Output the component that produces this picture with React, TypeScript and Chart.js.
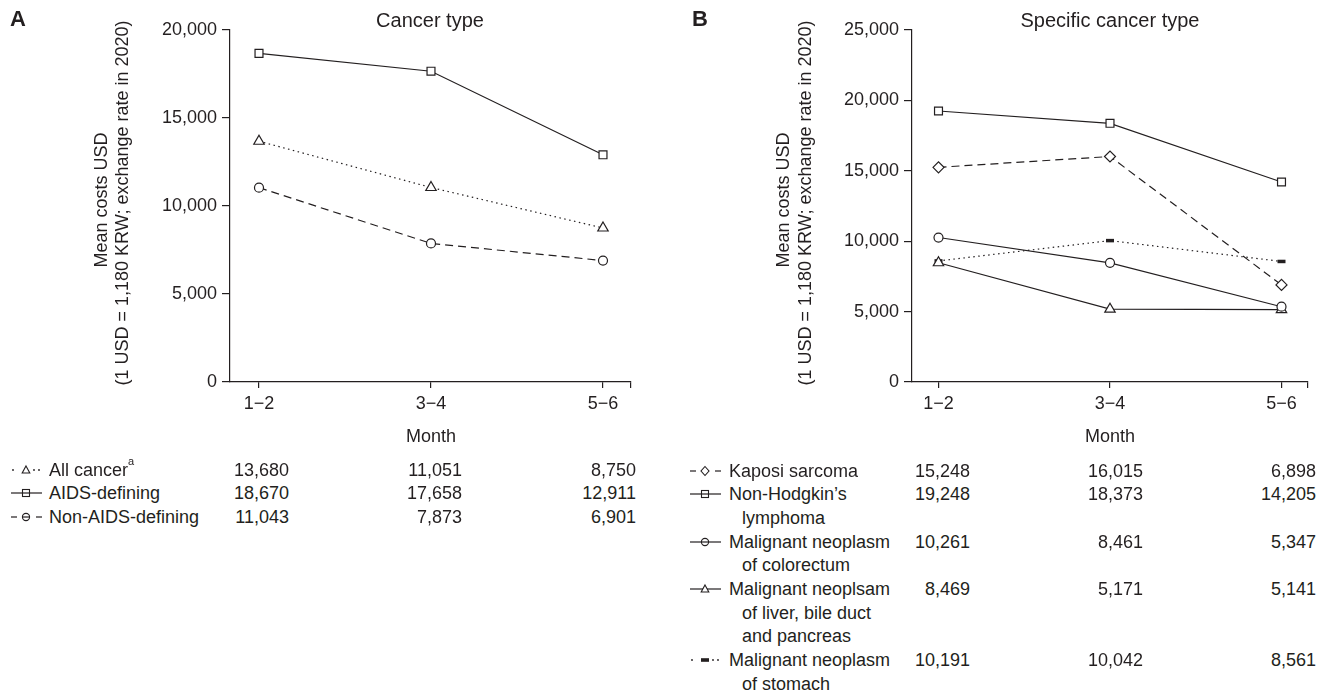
import React, { useEffect, useRef } from 'react';
import { Chart, registerables } from 'chart.js';

Chart.register(...registerables);

// ---------- data ----------
const months = ['1−2', '3−4', '5−6'];

// Panel A: cancer type
const allCancer = [13680, 11051, 8750];
const aidsDefining = [18670, 17658, 12911];
const nonAidsDefining = [11043, 7873, 6901];

// Panel B: specific cancer type
const kaposi = [15248, 16015, 6898];
const nonHodgkin = [19248, 18373, 14205];
const colorectum = [10261, 8461, 5347];
const liver = [8469, 5171, 5141];
const stomachTable = [10191, 10042, 8561];
const stomachPlotted = [8600, 10042, 8561]; // as drawn in the figure

const yTicksA = [0, 5000, 10000, 15000, 20000];
const yTicksB = [0, 5000, 10000, 15000, 20000, 25000];

const FONT = '"Liberation Sans", Arial, Helvetica, sans-serif';
const INK = '#231f20';

type Series = {
  values: number[];
  dash: number[];
  point: string;
  radius: number;
  pbw?: number;
  pfill?: string;
};

type ChartProps = {
  left: number;
  width: number;
  height: number;
  yMax: number;
  yTicks: number[];
  xMin: number;
  xMax: number;
  yW: number;
  xH: number;
  padRight: number;
  series: Series[];
};

function LineChart(p: ChartProps) {
  const ref = useRef<HTMLCanvasElement | null>(null);
  useEffect(() => {
    if (!ref.current) return;
    const chart = new Chart(ref.current, {
      type: 'line',
      data: {
        datasets: p.series.map((s) => ({
          data: s.values.map((v, i) => ({ x: i + 1, y: v })),
          borderColor: INK,
          borderWidth: 1.2,
          borderDash: s.dash,
          pointStyle: s.point as any,
          pointRadius: s.radius,
          pointBorderWidth: s.pbw ?? 1.2,
          pointBorderColor: INK,
          pointBackgroundColor: s.pfill ?? '#ffffff',
          tension: 0,
          fill: false,
        })),
      },
      options: {
        responsive: false,
        animation: false,
        devicePixelRatio: 1,
        events: [],
        layout: { padding: { top: 30, right: p.padRight, left: 0, bottom: 0 } },
        plugins: { legend: { display: false }, tooltip: { enabled: false }, title: { display: false } },
        scales: {
          x: {
            type: 'linear',
            min: p.xMin,
            max: p.xMax,
            afterBuildTicks: (s: any) => {
              s.ticks = [1, 2, 3, p.xMax].map((v) => ({ value: v }));
            },
            afterFit: (s: any) => {
              s.height = p.xH;
            },
            ticks: {
              autoSkip: false,
              maxRotation: 0,
              padding: 5,
              color: INK,
              font: { family: FONT, size: 18 },
              callback: (v: any) => (Number.isInteger(v) && v >= 1 && v <= 3 ? months[v - 1] : ''),
            },
            grid: { drawOnChartArea: false, drawTicks: true, tickLength: 6, color: INK, lineWidth: 1.2 },
            border: { display: true, color: INK, width: 1.2 },
          },
          y: {
            type: 'linear',
            min: 0,
            max: p.yMax,
            afterBuildTicks: (s: any) => {
              s.ticks = p.yTicks.map((v) => ({ value: v }));
            },
            afterFit: (s: any) => {
              s.width = p.yW;
            },
            ticks: {
              padding: 5,
              color: INK,
              font: { family: FONT, size: 18 },
              callback: (v: any) => Number(v).toLocaleString('en-US'),
            },
            grid: { drawOnChartArea: false, drawTicks: true, tickLength: 8, color: INK, lineWidth: 1.2 },
            border: { display: true, color: INK, width: 1.2 },
          },
        },
      } as any,
    });
    return () => chart.destroy();
  }, []);
  return (
    <canvas
      ref={ref}
      width={p.width}
      height={p.height}
      style={{ position: 'absolute', left: p.left, top: 0, width: p.width, height: p.height }}
    />
  );
}

function Txt(props: {
  x: number;
  y: number;
  children: React.ReactNode;
  align?: 'left' | 'center' | 'right';
  size?: number;
  bold?: boolean;
  rotate?: boolean;
}) {
  const { x, y, align = 'left', size = 18, bold, rotate } = props;
  let tx = '0';
  if (align === 'center') tx = '-50%';
  if (align === 'right') tx = '-100%';
  const transform = rotate ? 'translate(-50%,-50%) rotate(-90deg)' : `translate(${tx},-50%)`;
  return (
    <div
      style={{
        position: 'absolute',
        left: x,
        top: y,
        transform,
        whiteSpace: 'nowrap',
        fontSize: size,
        lineHeight: '1',
        fontWeight: bold ? 700 : 400,
        fontFamily: FONT,
        color: INK,
      }}
    >
      {props.children}
    </div>
  );
}

function Marker({ kind, cx, cy }: { kind: string; cx: number; cy: number }) {
  const st = { fill: 'none', stroke: INK, strokeWidth: 1.1 } as any;
  if (kind === 'triangle')
    return <polygon points={`${cx},${cy - 4} ${cx + 3.8},${cy + 3} ${cx - 3.8},${cy + 3}`} {...st} fill="#fff" />;
  if (kind === 'rect') return <rect x={cx - 3.5} y={cy - 3.5} width={7} height={7} {...st} />;
  if (kind === 'circle') return <circle cx={cx} cy={cy} r={3.6} {...st} />;
  if (kind === 'diamond')
    return <polygon points={`${cx},${cy - 4.5} ${cx + 4},${cy} ${cx},${cy + 4.5} ${cx - 4},${cy}`} {...st} fill="#fff" />;
  if (kind === 'bar') return <rect x={cx - 4} y={cy - 1.8} width={8} height={3.6} fill={INK} />;
  return null;
}

function Sym({ x, y, line, marker }: { x: number; y: number; line: 'solid' | 'dashed' | 'dotted'; marker: string }) {
  const w = 31;
  const cy = 7;
  const cx = 15;
  const seg = (x1: number, x2: number, k: number) => (
    <line key={k} x1={x1} y1={cy} x2={x2} y2={cy} stroke={INK} strokeWidth={1.2} />
  );
  let lines: React.ReactNode[] = [];
  if (line === 'solid') lines = [seg(0, w, 0)];
  if (line === 'dashed') lines = [seg(0, 6, 0), seg(cx - 4, cx + 4, 1), seg(w - 6, w, 2)];
  if (line === 'dotted')
    lines = [
      <circle key="a" cx={2} cy={cy} r={0.9} fill={INK} />,
      <circle key="b" cx={23} cy={cy} r={0.9} fill={INK} />,
      <circle key="c" cx={28} cy={cy} r={0.9} fill={INK} />,
    ];
  return (
    <svg width={w} height={14} style={{ position: 'absolute', left: x, top: y - 7 }}>
      {lines}
      <Marker kind={marker} cx={cx} cy={cy} />
    </svg>
  );
}

const fmt = (v: number) => v.toLocaleString('en-US');

export default function App() {
  const rowA0 = 469.5;
  const rowB0 = 470.5;
  const dy = 23.7;
  const colsA = [289, 462, 636];
  const colsB = [970, 1143, 1316];

  const rowsA = [
    { line: 'dotted' as const, marker: 'triangle', label: <>All cancer<sup style={{ fontSize: 11, verticalAlign: 'top', position: 'relative', top: -5 }}>a</sup></>, vals: allCancer },
    { line: 'solid' as const, marker: 'rect', label: <>AIDS-defining</>, vals: aidsDefining },
    { line: 'dashed' as const, marker: 'circle', label: <>Non-AIDS-defining</>, vals: nonAidsDefining },
  ];

  const rowsB = [
    { line: 'dashed' as const, marker: 'diamond', label: ['Kaposi sarcoma'], vals: kaposi },
    { line: 'solid' as const, marker: 'rect', label: ['Non-Hodgkin’s', 'lymphoma'], vals: nonHodgkin },
    { line: 'solid' as const, marker: 'circle', label: ['Malignant neoplasm', 'of colorectum'], vals: colorectum },
    { line: 'solid' as const, marker: 'triangle', label: ['Malignant neoplsam', 'of liver, bile duct', 'and pancreas'], vals: liver },
    { line: 'dotted' as const, marker: 'bar', label: ['Malignant neoplasm', 'of stomach'], vals: stomachTable },
  ];

  const bEls: React.ReactNode[] = [];
  let lineIdx = 0;
  rowsB.forEach((r, ri) => {
    const y = rowB0 + lineIdx * dy;
    bEls.push(<Sym key={`s${ri}`} x={690} y={y} line={r.line} marker={r.marker} />);
    r.label.forEach((t, li) => {
      bEls.push(
        <Txt key={`l${ri}-${li}`} x={li === 0 ? 729 : 742} y={rowB0 + (lineIdx + li) * dy}>
          {t}
        </Txt>
      );
    });
    r.vals.forEach((v, ci) => {
      bEls.push(
        <Txt key={`v${ri}-${ci}`} x={colsB[ci]} y={y} align="right">
          {fmt(v)}
        </Txt>
      );
    });
    lineIdx += r.label.length;
  });

  return (
    <div
      style={{
        position: 'absolute',
        left: 0,
        top: 0,
        width: 1323,
        height: 696,
        background: '#fff',
        overflow: 'hidden',
        fontFamily: FONT,
      }}
    >
      <LineChart
        left={0}
        width={660}
        height={460}
        yMax={20000}
        yTicks={yTicksA}
        xMin={1 - 29 / 172}
        xMax={1 + 372 / 172}
        yW={230}
        xH={78}
        padRight={29}
        series={[
          { values: allCancer, dash: [1.5, 3.5], point: 'triangle', radius: 6 },
          { values: aidsDefining, dash: [], point: 'rect', radius: 5.6 },
          { values: nonAidsDefining, dash: [8, 5], point: 'circle', radius: 4.5 },
        ]}
      />
      <LineChart
        left={660}
        width={663}
        height={460}
        yMax={25000}
        yTicks={yTicksB}
        xMin={1 - 26.5 / 171.5}
        xMax={1 + 369.5 / 171.5}
        yW={252}
        xH={78}
        padRight={15}
        series={[
          { values: kaposi, dash: [8, 5], point: 'rectRot', radius: 5.5 },
          { values: nonHodgkin, dash: [], point: 'rect', radius: 5.6 },
          { values: colorectum, dash: [], point: 'circle', radius: 4.5 },
          { values: liver, dash: [], point: 'triangle', radius: 6 },
          { values: stomachPlotted, dash: [1.5, 3.5], point: 'line', radius: 4, pbw: 3.5, pfill: INK },
        ]}
      />

      {/* Panel letters and titles */}
      <Txt x={10} y={19} size={22} bold>A</Txt>
      <Txt x={692} y={19} size={22} bold>B</Txt>
      <Txt x={430} y={20} size={20} align="center">Cancer type</Txt>
      <Txt x={1110} y={20} size={20} align="center">Specific cancer type</Txt>

      {/* Y axis titles */}
      <Txt x={101} y={200} rotate>Mean costs USD</Txt>
      <Txt x={122} y={203} rotate>(1 USD = 1,180 KRW; exchange rate in 2020)</Txt>
      <Txt x={783} y={200} rotate>Mean costs USD</Txt>
      <Txt x={805} y={203} rotate>(1 USD = 1,180 KRW; exchange rate in 2020)</Txt>

      {/* X axis titles */}
      <Txt x={431} y={436} align="center">Month</Txt>
      <Txt x={1110} y={436} align="center">Month</Txt>

      {/* Table A */}
      {rowsA.map((r, ri) => (
        <React.Fragment key={`a${ri}`}>
          <Sym x={11} y={rowA0 + ri * dy} line={r.line} marker={r.marker} />
          <Txt x={49} y={rowA0 + ri * dy}>{r.label}</Txt>
          {r.vals.map((v, ci) => (
            <Txt key={ci} x={colsA[ci]} y={rowA0 + ri * dy} align="right">
              {fmt(v)}
            </Txt>
          ))}
        </React.Fragment>
      ))}

      {/* Table B */}
      {bEls}
    </div>
  );
}
